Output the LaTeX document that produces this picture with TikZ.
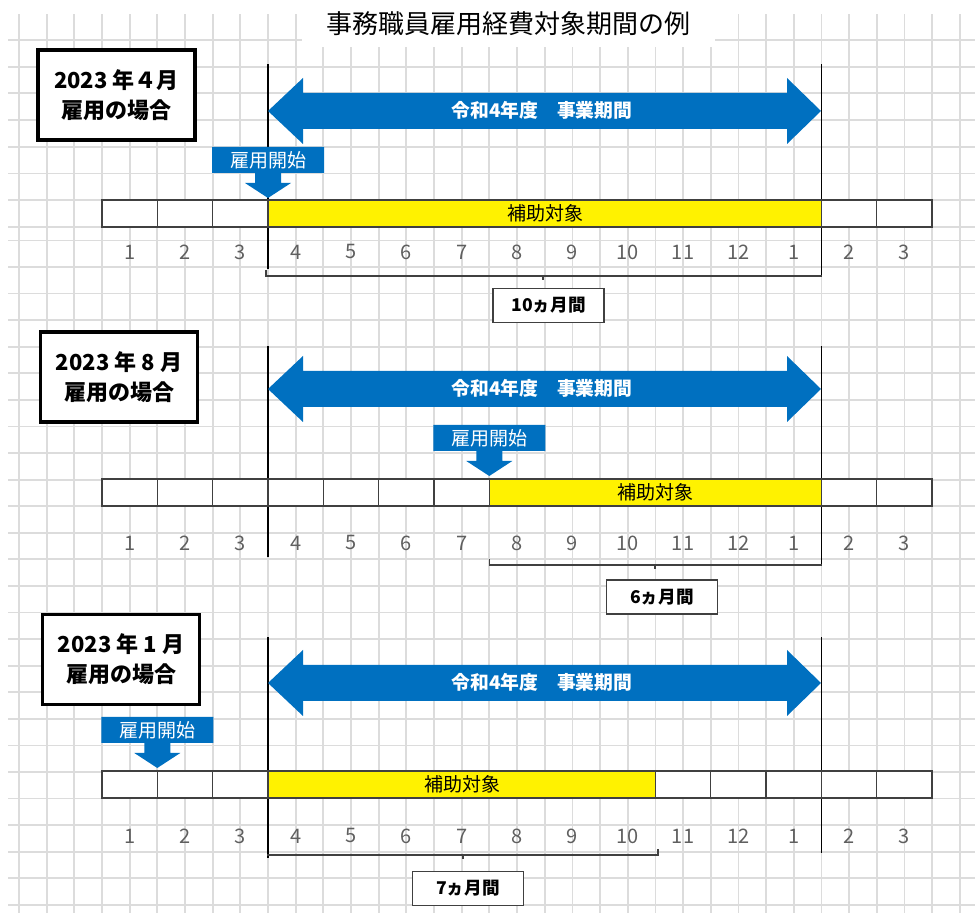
\documentclass[tikz,border=0pt]{standalone}
\usepackage{fontspec}
\setmainfont{Noto Sans CJK JP}
\usepackage{tikz}
\definecolor{xlblue}{RGB}{0,112,192}
\definecolor{gridgray}{RGB}{220,220,220}
\definecolor{numgray}{RGB}{95,95,95}
\definecolor{linegray}{RGB}{64,64,64}
\tikzstyle{gridline} = [gridgray, line width=0.9pt]
\tikzstyle{fyline} = [black, line width=0.8pt]
\tikzstyle{cell} = [draw=linegray, line width=0.7pt, fill=white]
\tikzstyle{target} = [draw=linegray, line width=0.7pt, fill=yellow]
\tikzstyle{brace} = [linegray, line width=0.8pt]
\tikzstyle{casebox} = [draw, line width=1.6pt, fill=white, align=center, minimum width=78.5pt, minimum height=45pt, inner sep=0pt, font=\bfseries\fontsize{11}{15}\selectfont]
\tikzstyle{periodbox} = [draw=linegray, line width=0.8pt, fill=white, minimum width=55.5pt, minimum height=17pt, inner sep=0pt, font=\bfseries\fontsize{8.8}{9}\selectfont]
\tikzstyle{spantext} = [white, inner sep=0pt, font=\bfseries\fontsize{9.4}{10}\selectfont]
\tikzstyle{starttext} = [white, inner sep=0pt, font=\fontsize{9.5}{10}\selectfont]
\tikzstyle{targettext} = [black, inner sep=0pt, font=\fontsize{9.5}{10}\selectfont]
\tikzstyle{month} = [numgray, inner sep=0pt, font=\fontsize{10}{11}\selectfont]

\begin{document}
\begin{tikzpicture}[x=0.5pt, y=-0.5pt, line cap=rect, line join=miter]
      \useasboundingbox (0,0) rectangle (975,913);
      % grid paper
      \foreach \k in {0,...,34}
        \draw [gridline] ({19+27.67*\k},15) -- ({19+27.67*\k},913);
      \foreach \k in {0,...,7}
        \draw [gridline] (9,{40+26.7*\k}) -- (975,{40+26.7*\k});
      \foreach \k in {-1,...,24}
        \draw [gridline] (9,{267+26.58*\k}) -- (975,{267+26.58*\k});
      \fill [white] (302,0) rectangle (715,47);
      \node (title) at (508,24) [inner sep=0pt, font=\fontsize{13}{14}\selectfont] {事務職員雇用経費対象期間の例};

      % 2023 April
      \draw [fyline] (268,65) -- (268,268);
      \draw [fyline] (821.3,65) -- (821.3,276);
      \fill [xlblue, shift={(0,111)}] (268,0) -- (303,-33) -- (303,-18) -- (787,-18) -- (787,-33) -- (821,0) -- (787,33) -- (787,18) -- (303,18) -- (303,33) -- cycle;
      \node (span1) at (542,110) [spantext] {令和4年度　事業期間};
      \node (case1) at (116.5,95) [casebox] {2023 年４月\\雇用の場合};
      \fill [xlblue, shift={(268,198)}] (-56,-51) -- (56,-51) -- (56,-25) -- (13,-25) -- (13,-15) -- (23,-15) -- (0,0) -- (-23,-15) -- (-13,-15) -- (-13,-25) -- (-56,-25) -- cycle;
      \node (start1) at (268,160) [starttext] {雇用開始};
      \foreach \i in {0,1,2,13,14}
        \draw [cell] ({102+55.33*\i},200) rectangle ({157.33+55.33*\i},227);
      \draw [target] (268,200) rectangle (821.3,227);
      \node (target1) at (545,213) [targettext] {補助対象};
      \foreach \m [count=\i from 0] in {1,2,3,4,5,6,7,8,9,10,11,12,1,2,3}
        \node (m1-\i) at ({129.7+55.33*\i},252) [month] {\m};
      \draw [brace] (266,271) -- (266,276) -- (821.3,276);
      \draw [brace] (543,276) -- (543,279);
      \node (period1) at (548.5,305.5) [periodbox] {10ヵ月間};

      % 2023 August
      \draw [fyline] (268,347) -- (268,556);
      \draw [fyline] (821.3,347) -- (821.3,565);
      \fill [xlblue, shift={(0,389)}] (268,0) -- (303,-33) -- (303,-18) -- (787,-18) -- (787,-33) -- (821,0) -- (787,33) -- (787,18) -- (303,18) -- (303,33) -- cycle;
      \node (span2) at (542,388) [spantext] {令和4年度　事業期間};
      \node (case2) at (119,377) [casebox] {2023 年 8 月\\雇用の場合};
      \fill [xlblue, shift={(489.3,476)}] (-56,-51) -- (56,-51) -- (56,-25) -- (13,-25) -- (13,-15) -- (23,-15) -- (0,0) -- (-23,-15) -- (-13,-15) -- (-13,-25) -- (-56,-25) -- cycle;
      \node (start2) at (489.3,438) [starttext] {雇用開始};
      \foreach \i in {0,1,...,6,13,14}
        \draw [cell] ({102+55.33*\i},479) rectangle ({157.33+55.33*\i},506);
      \draw [target] (489.3,479) rectangle (821.3,506);
      \node (target2) at (655,492) [targettext] {補助対象};
      \foreach \m [count=\i from 0] in {1,2,3,4,5,6,7,8,9,10,11,12,1,2,3}
        \node (m2-\i) at ({129.7+55.33*\i},543) [month] {\m};
      \draw [brace] (489.3,560) -- (489.3,565) -- (821.3,565);
      \draw [brace] (655,565) -- (655,568);
      \node (period2) at (662,597) [periodbox] {6ヵ月間};

      % 2023 January
      \draw [fyline] (268,638) -- (268,857);
      \draw [fyline] (821.3,638) -- (821.3,852);
      \fill [xlblue, shift={(0,683)}] (268,0) -- (303,-33) -- (303,-18) -- (787,-18) -- (787,-33) -- (821,0) -- (787,33) -- (787,18) -- (303,18) -- (303,33) -- cycle;
      \node (span3) at (542,682) [spantext] {令和4年度　事業期間};
      \node (case3) at (121,659.5) [casebox] {2023 年 1 月\\雇用の場合};
      \fill [xlblue, shift={(157.3,768)}] (-56,-51) -- (56,-51) -- (56,-25) -- (13,-25) -- (13,-15) -- (23,-15) -- (0,0) -- (-23,-15) -- (-13,-15) -- (-13,-25) -- (-56,-25) -- cycle;
      \node (start3) at (157.3,730) [starttext] {雇用開始};
      \foreach \i in {0,1,2,10,11,12,13,14}
        \draw [cell] ({102+55.33*\i},771) rectangle ({157.33+55.33*\i},798);
      \draw [target] (268,771) rectangle (655.3,798);
      \node (target3) at (462,784) [targettext] {補助対象};
      \foreach \m [count=\i from 0] in {1,2,3,4,5,6,7,8,9,10,11,12,1,2,3}
        \node (m3-\i) at ({129.7+55.33*\i},836) [month] {\m};
      \draw [brace] (268,855) -- (658,855) -- (658,850);
      \draw [brace] (463,855) -- (463,858);
      \node (period3) at (468,888.5) [periodbox] {7ヵ月間};
\end{tikzpicture}
\end{document}
